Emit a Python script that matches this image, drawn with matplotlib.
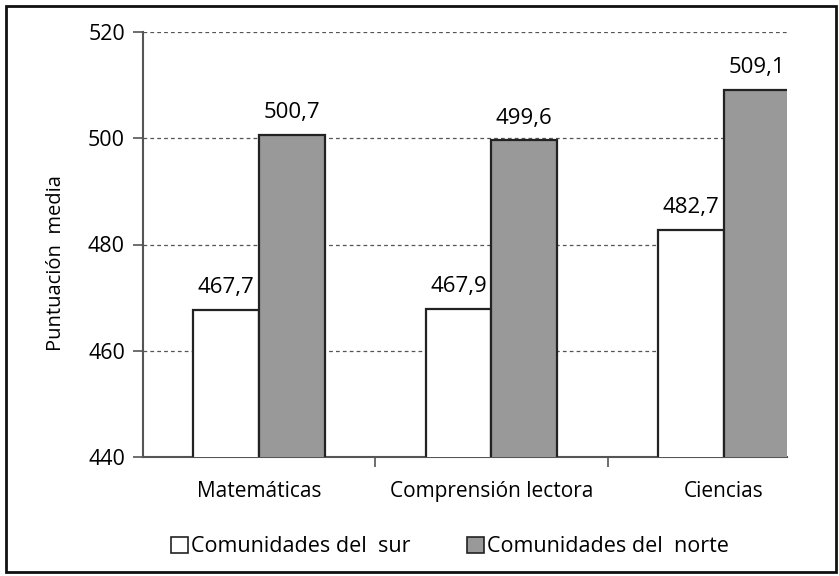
import matplotlib
matplotlib.use("Agg")
import matplotlib.pyplot as plt
from matplotlib.patches import Rectangle, Patch
import numpy as np

categories = ["Matemáticas", "Comprensión lectora", "Ciencias"]
sur = [467.7, 467.9, 482.7]
norte = [500.7, 499.6, 509.1]
series_names = ["Comunidades del  sur", "Comunidades del  norte"]
yticks = [440, 460, 480, 500, 520]

plt.rcParams['font.family'] = ['Open Sans', 'DejaVu Sans']

fig = plt.figure(figsize=(8.39, 5.76), dpi=100)
ax = fig.add_axes([143/839, 1-457/576, (787-143)/839, (457-32)/576])

x = np.arange(len(categories))
w = 0.283
edge = "#222222"
b1 = ax.bar(x - w/2, sur, w, color="white", edgecolor=edge, linewidth=1.6, zorder=3)
b2 = ax.bar(x + w/2, norte, w, color="#999999", edgecolor=edge, linewidth=1.6, zorder=3)

for bars, vals in ((b1, sur), (b2, norte)):
    for rect, v in zip(bars, vals):
        ax.annotate(f"{v:.1f}".replace(".", ","),
                    (rect.get_x() + rect.get_width()/2, v),
                    xytext=(0, 12), textcoords="offset points",
                    ha="center", va="baseline", fontsize=16, color="black")

ax.set_ylim(440, 520)
ax.set_xlim(-0.5, 2.272)
ax.set_yticks(yticks)
ax.set_yticklabels([str(t) for t in yticks], fontsize=15.5, color="black")
ax.yaxis.grid(True, linestyle=(0, (3, 2.5)), color="#555555", linewidth=0.9, zorder=0)
ax.set_axisbelow(True)

ax.set_xticks([0.5, 1.5])
ax.set_xticklabels([])
ax.set_xticks(x, minor=True)
ax.set_xticklabels(categories, minor=True, fontsize=15, color="black")
ax.tick_params(axis='x', which='minor', length=0, pad=17)
ax.tick_params(axis='x', which='major', length=7, width=1.2, color="#555555")
ax.tick_params(axis='y', length=7, width=1.2, color="#555555", pad=6)

for s in ("top", "right"):
    ax.spines[s].set_visible(False)
for s in ("left", "bottom"):
    ax.spines[s].set_color("#555555")
    ax.spines[s].set_linewidth(1.5)

ax.set_ylabel("Puntuación  media", fontsize=14.5, color="black")
ax.yaxis.set_label_coords(-(143 - 66) / (787 - 143), (457 - 263) / (457 - 32))

handles = [Patch(facecolor="white", edgecolor=edge, linewidth=1.2),
           Patch(facecolor="#999999", edgecolor=edge, linewidth=1.2)]
fig.legend(handles, series_names, loc="center", bbox_to_anchor=(450/839, 1-547/576),
           ncol=2, frameon=False, fontsize=15.5, handlelength=0.8, handleheight=0.8,
           handletextpad=0.15, columnspacing=2.6)

fig.patches.append(Rectangle((6/839, 4/576), 830/839, 566/576, transform=fig.transFigure,
                             fill=False, edgecolor="#111111", linewidth=2))

fig.savefig("out.png", dpi=100)
